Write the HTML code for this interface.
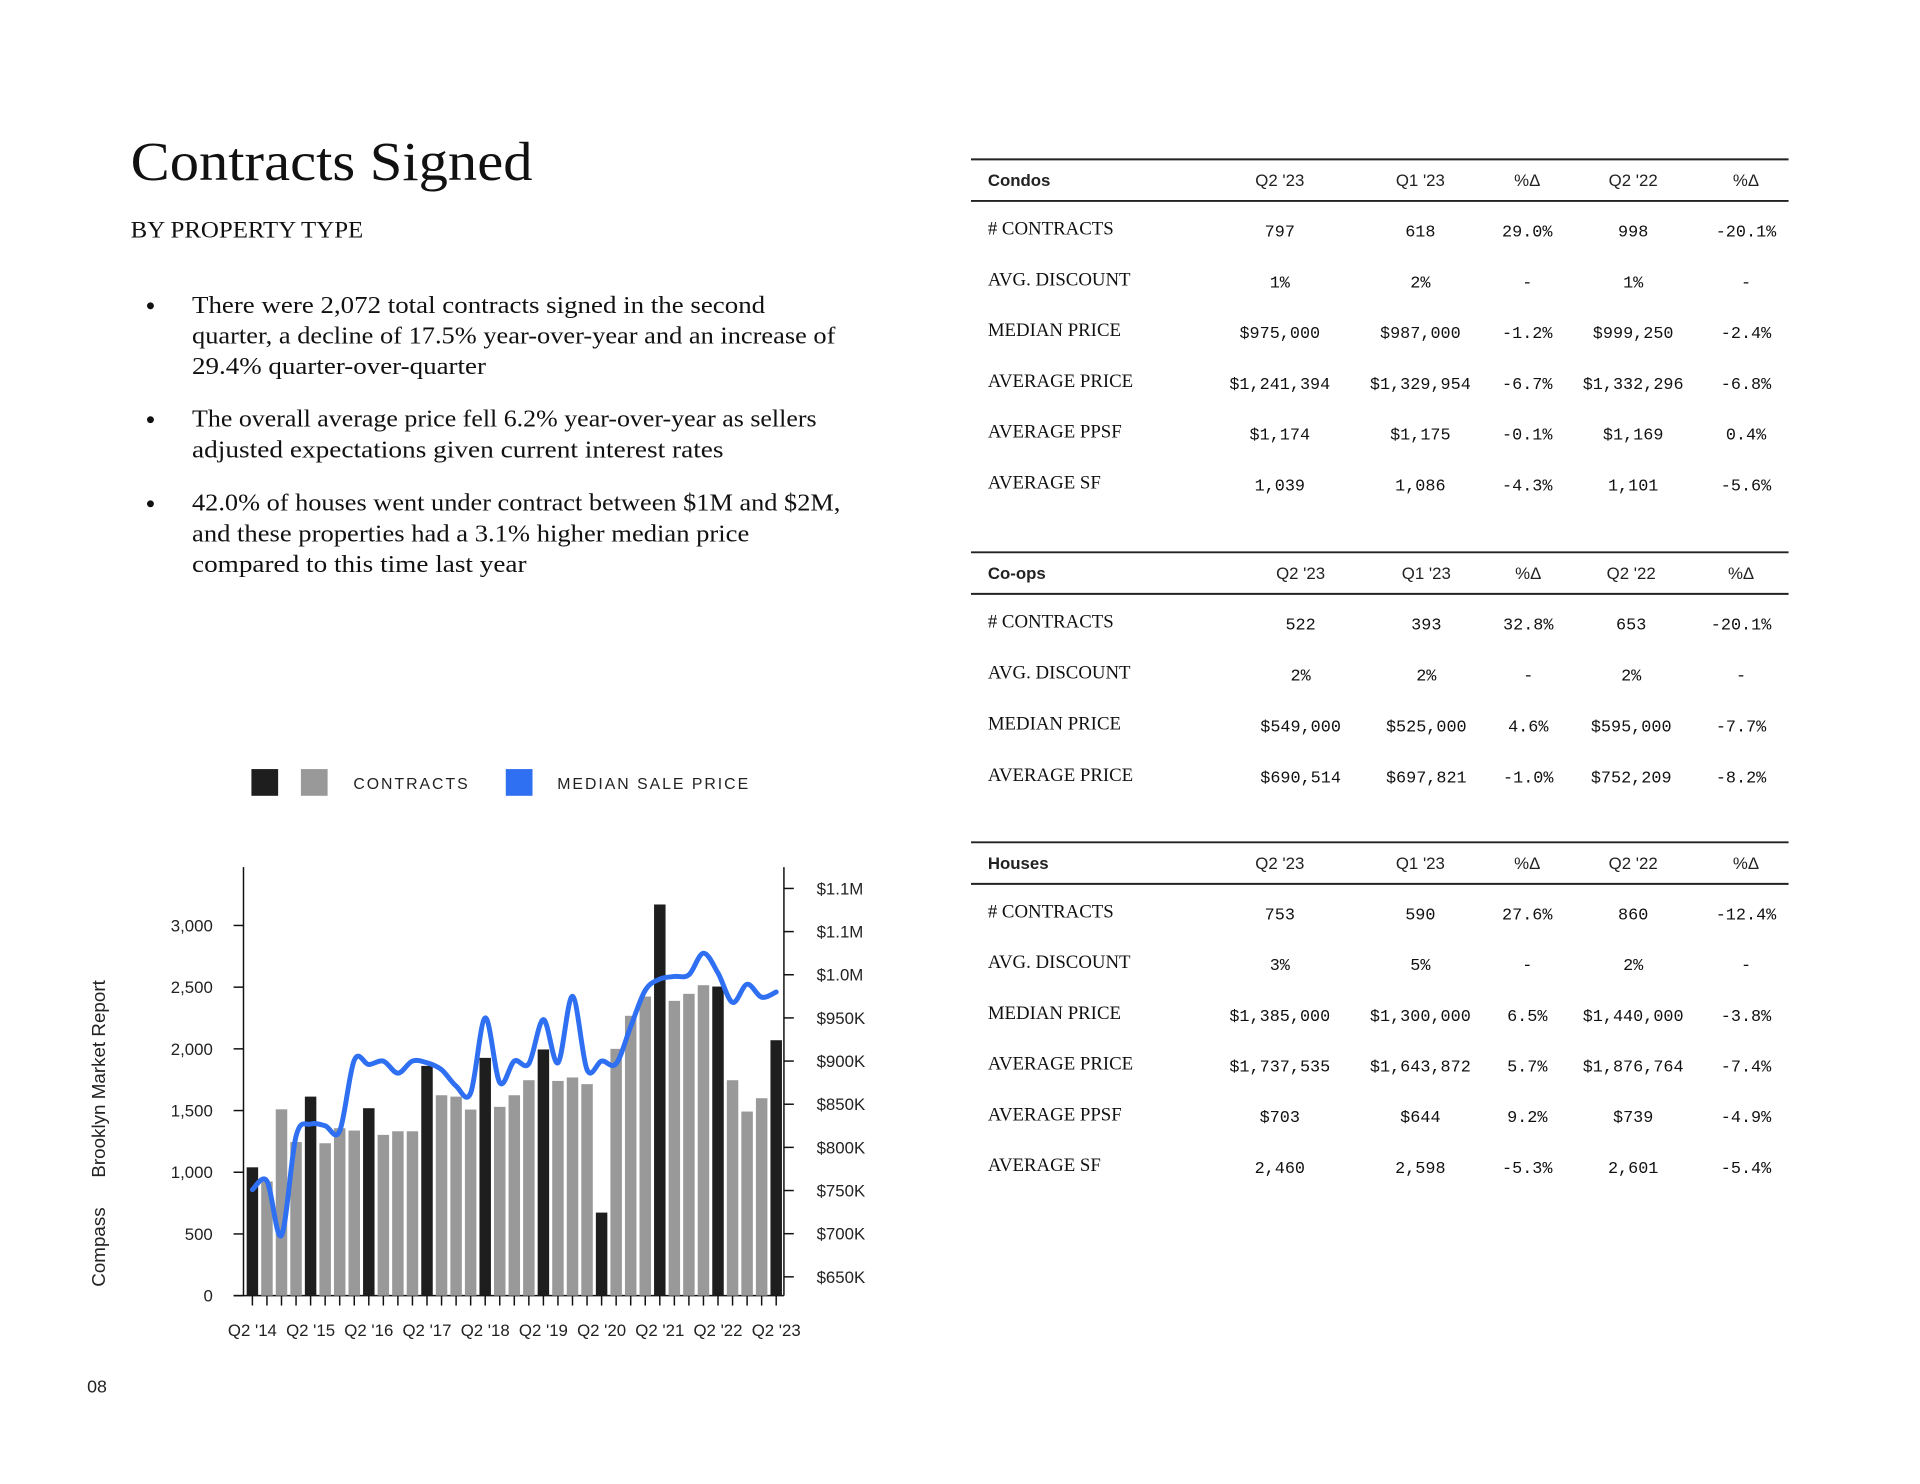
<!DOCTYPE html>
<html><head><meta charset="utf-8">
<style>
html,body{margin:0;padding:0;background:#fff;}
svg{display:block;}
.serif{font-family:"Liberation Serif",serif;fill:#111;}
.sans{font-family:"Liberation Sans",sans-serif;fill:#222;}
.mono{font-family:"Liberation Mono",monospace;fill:#111;}
</style></head>
<body>
<svg id="page" width="1920" height="1484" viewBox="0 0 1920 1484" xmlns="http://www.w3.org/2000/svg">
<g transform="scale(0.9898)">
<text class="serif" x="132" y="182" font-size="56" textLength="406" lengthAdjust="spacingAndGlyphs">Contracts Signed</text>
<text class="serif" x="132" y="240" font-size="23" textLength="235" lengthAdjust="spacingAndGlyphs">BY PROPERTY TYPE</text>
<g class="serif" font-size="24">
<circle cx="152" cy="309" r="3.5" fill="#111"/>
<text x="194" y="316" textLength="579" lengthAdjust="spacingAndGlyphs">There were 2,072 total contracts signed in the second</text>
<text x="194" y="347" textLength="650" lengthAdjust="spacingAndGlyphs">quarter, a decline of 17.5% year-over-year and an increase of</text>
<text x="194" y="378" textLength="297" lengthAdjust="spacingAndGlyphs">29.4% quarter-over-quarter</text>
<circle cx="152" cy="424" r="3.5" fill="#111"/>
<text x="194" y="431" textLength="631" lengthAdjust="spacingAndGlyphs">The overall average price fell 6.2% year-over-year as sellers</text>
<text x="194" y="462" textLength="537" lengthAdjust="spacingAndGlyphs">adjusted expectations given current interest rates</text>
<circle cx="152" cy="509" r="3.5" fill="#111"/>
<text x="194" y="516" textLength="655" lengthAdjust="spacingAndGlyphs">42.0% of houses went under contract between $1M and $2M,</text>
<text x="194" y="547" textLength="563" lengthAdjust="spacingAndGlyphs">and these properties had a 3.1% higher median price</text>
<text x="194" y="578" textLength="338" lengthAdjust="spacingAndGlyphs">compared to this time last year</text>
</g>
<g>
<rect x="254" y="777" width="27" height="27" fill="#1e1e1e"/>
<rect x="304" y="777" width="27" height="27" fill="#999"/>
<text class="sans" x="357" y="797" font-size="16" letter-spacing="2">CONTRACTS</text>
<rect x="511" y="777" width="27" height="27" fill="#2f6ff2"/>
<text class="sans" x="563" y="797" font-size="16" letter-spacing="2">MEDIAN SALE PRICE</text>
</g>
<text class="sans" transform="translate(106,1300) rotate(-90)" font-size="19" fill="#222">Compass<tspan dx="30">Brooklyn Market Report</tspan></text>
<text class="sans" x="88" y="1407" font-size="18">08</text>
<g id="chart"></g>
<g id="tables"></g>
</g>
</svg>
<script>
const contracts=[1040,925,1510,1245,1613,1235,1357,1338,1519,1303,1332,1332,1862,1624,1613,1508,1927,1530,1624,1746,1995,1740,1768,1714,673,2000,2268,2424,3170,2389,2446,2516,2505,1746,1492,1600,2070];
const medianPrice=[751,761,698,813,827,825,819,901,896,900,886,900,898,890,871,863,950,875,900,897,948,898,975,890,900,897,940,982,995,998,1000,1025,1002,968,989,974,980];
const xLabels=["Q2 '14","Q2 '15","Q2 '16","Q2 '17","Q2 '18","Q2 '19","Q2 '20","Q2 '21","Q2 '22","Q2 '23"];
const leftTicks=[0,500,1000,1500,2000,2500,3000];
const leftTickLabels=["0","500","1,000","1,500","2,000","2,500","3,000"];
const rightTicks=[650,700,750,800,850,900,950,1000,1050,1100];
const rightTickLabels=["$650K","$700K","$750K","$800K","$850K","$900K","$950K","$1.0M","$1.1M","$1.1M"];

const NS="http://www.w3.org/2000/svg";
function mk(tag,attrs,parent,txt){const e=document.createElementNS(NS,tag);for(const k in attrs)e.setAttribute(k,attrs[k]);if(txt!==undefined)e.textContent=txt;parent.appendChild(e);return e;}
const chart=document.getElementById('chart');
const X0=255,DX=14.7,Y0=1309,LS=374/3000;
const xq=i=>X0+i*DX;
const yL=v=>Y0-v*LS;
const yR=v=>1290-(v-650)*43.6/50;
let a=mk('line',{x1:246,y1:876,x2:246,y2:Y0,stroke:'#111','stroke-width':1.5},chart);

a=mk('line',{x1:792,y1:876,x2:792,y2:Y0,stroke:'#111','stroke-width':1.5},chart);

a=mk('line',{x1:236,y1:Y0,x2:792,y2:Y0,stroke:'#111','stroke-width':1.5},chart);

leftTicks.forEach((v,i)=>{
  mk('line',{x1:236,y1:yL(v),x2:246,y2:yL(v),stroke:'#111','stroke-width':1.5},chart);
  const t=mk('text',{x:215,y:yL(v)+6,'text-anchor':'end','font-size':17,class:'sans'},chart,leftTickLabels[i]);
  
  
});
rightTicks.forEach((v,i)=>{
  mk('line',{x1:792,y1:yR(v),x2:802,y2:yR(v),stroke:'#111','stroke-width':1.5},chart);
  const t=mk('text',{x:825,y:yR(v)+6,'font-size':17,class:'sans'},chart,rightTickLabels[i]);
  
  
});
contracts.forEach((v,i)=>{
  mk('line',{x1:xq(i),y1:Y0,x2:xq(i),y2:Y0+10,stroke:'#111','stroke-width':1.5},chart);
  const b=mk('rect',{x:xq(i)-5.8,y:yL(v),width:11.6,height:Y0-yL(v),fill:(i%4===0)?'#1e1e1e':'#999'},chart);
  
  
});
xLabels.forEach((l,k)=>{
  const t=mk('text',{x:xq(k*4),y:1350,'text-anchor':'middle','font-size':17,class:'sans'},chart,l);
  
  
});
const pts=medianPrice.map((v,i)=>[xq(i),yR(v)]);
let d='M'+pts[0][0]+','+pts[0][1];
for(let i=0;i<pts.length-1;i++){
  const p0=pts[Math.max(0,i-1)],p1=pts[i],p2=pts[i+1],p3=pts[Math.min(pts.length-1,i+2)];
  const c1=[p1[0]+(p2[0]-p0[0])/6,p1[1]+(p2[1]-p0[1])/6];
  const c2=[p2[0]-(p3[0]-p1[0])/6,p2[1]-(p3[1]-p1[1])/6];
  d+=' C'+c1[0]+','+c1[1]+' '+c2[0]+','+c2[1]+' '+p2[0]+','+p2[1];
}
const ln=mk('path',{d:d,fill:'none',stroke:'#2f6ff2','stroke-width':5,'stroke-linecap':'round','stroke-linejoin':'round'},chart);



const tables=document.getElementById('tables');
const condoRows=[["# CONTRACTS","797","618","29.0%","998","-20.1%"],["AVG. DISCOUNT","1%","2%","-","1%","-"],["MEDIAN PRICE","$975,000","$987,000","-1.2%","$999,250","-2.4%"],["AVERAGE PRICE","$1,241,394","$1,329,954","-6.7%","$1,332,296","-6.8%"],["AVERAGE PPSF","$1,174","$1,175","-0.1%","$1,169","0.4%"],["AVERAGE SF","1,039","1,086","-4.3%","1,101","-5.6%"]];
const coopRows=[["# CONTRACTS","522","393","32.8%","653","-20.1%"],["AVG. DISCOUNT","2%","2%","-","2%","-"],["MEDIAN PRICE","$549,000","$525,000","4.6%","$595,000","-7.7%"],["AVERAGE PRICE","$690,514","$697,821","-1.0%","$752,209","-8.2%"]];
const houseRows=[["# CONTRACTS","753","590","27.6%","860","-12.4%"],["AVG. DISCOUNT","3%","5%","-","2%","-"],["MEDIAN PRICE","$1,385,000","$1,300,000","6.5%","$1,440,000","-3.8%"],["AVERAGE PRICE","$1,737,535","$1,643,872","5.7%","$1,876,764","-7.4%"],["AVERAGE PPSF","$703","$644","9.2%","$739","-4.9%"],["AVERAGE SF","2,460","2,598","-5.3%","2,601","-5.4%"]];
const colsA=[1293,1435,1543,1650,1764],colsB=[1314,1441,1544,1648,1759];
function table(name,title,top,rows,cols,rowStep){
  const g=mk('g',{},tables);
  
  
  mk('line',{x1:981,y1:top,x2:1807,y2:top,stroke:'#222','stroke-width':2},g);
  mk('line',{x1:981,y1:top+42,x2:1807,y2:top+42,stroke:'#222','stroke-width':2},g);
  mk('text',{x:998,y:top+27,'font-size':17,'font-weight':'bold',class:'sans',fill:'#111'},g,title);
  ["Q2 '23","Q1 '23","%Δ","Q2 '22","%Δ"].forEach((h,i)=>mk('text',{x:cols[i],y:top+27,'text-anchor':'middle','font-size':17,class:'sans'},g,h));
  rows.forEach((r,j)=>{
    const y=top+76+j*rowStep;
    mk('text',{x:998,y:y,'font-size':19,class:'serif'},g,r[0]);
    for(let i=1;i<6;i++)mk('text',{x:cols[i-1],y:y+2,'text-anchor':'middle','font-size':17,class:'mono'},g,r[i]);
  });
}
table('condos-table','Condos',161,condoRows,colsA,51.3);
table('coops-table','Co-ops',558,coopRows,colsB,51.6);
table('houses-table','Houses',851,houseRows,colsA,51.2);
</script>
</body></html>
